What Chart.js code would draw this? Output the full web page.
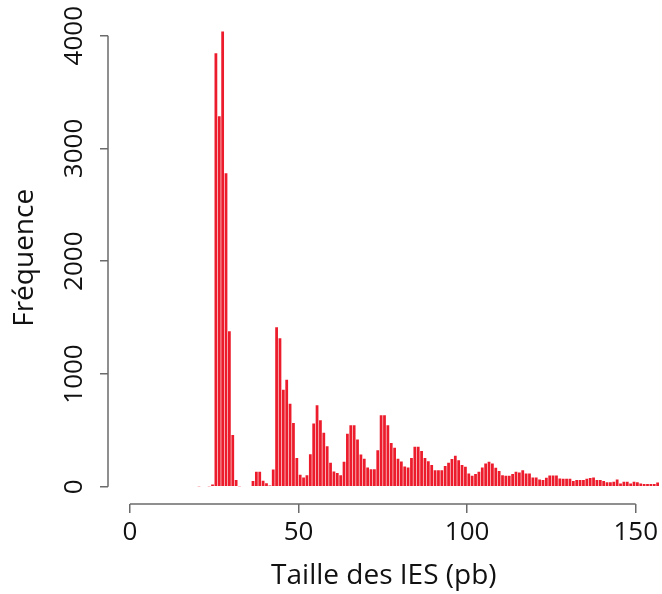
<!DOCTYPE html>
<html>
<head>
<meta charset="utf-8">
<script src="https://cdn.jsdelivr.net/npm/chart.js@4.4.1/dist/chart.umd.min.js"></script>
<style>
  html, body { margin: 0; padding: 0; background: #fff; }
  #wrap { width: 662px; height: 594px; }
</style>
</head>
<body>
<div id="wrap"><canvas id="histo" width="662" height="594"></canvas></div>
<script>
// histogramme des tailles d'IES, classes de 1 pb (bord gauche de la premiere classe)
const premiereClasse = 20;
const frequences = [
  5, 0, 0, 4, 20, 3844, 3286, 4037, 2781, 1380,
  460, 60, 5, 0, 0, 6, 50, 133, 133, 53,
  30, 10, 153, 1414, 1317, 860, 949, 737, 566, 256,
  106, 83, 103, 289, 560, 722, 589, 480, 360, 212,
  136, 121, 103, 221, 471, 545, 545, 418, 286, 248,
  171, 156, 156, 324, 634, 634, 545, 389, 345, 248,
  224, 180, 170, 256, 354, 354, 318, 256, 227, 192,
  147, 147, 147, 183, 212, 245, 274, 236, 192, 177,
  118, 97, 112, 133, 171, 206, 221, 206, 168, 139,
  103, 97, 97, 112, 133, 127, 147, 118, 118, 83,
  83, 65, 59, 80, 100, 100, 100, 74, 71, 71,
  71, 50, 59, 59, 59, 71, 77, 83, 59, 59,
  50, 41, 41, 44, 65, 29, 44, 44, 29, 44,
  41, 29, 24, 24, 24, 24, 38
];
const ticksX = [0, 50, 100, 150];
const ticksY = [0, 1000, 2000, 3000, 4000];

const rouge = "#ec1c2c";
const gris = "#6b6b6b";
const police = "'Open Sans', 'Noto Sans', sans-serif";

const barres = frequences.map((f, i) => ({ x: premiereClasse + i + 0.5, y: f }));

// axes detaches facon R : la ligne ne va que du premier au dernier tick
const axesR = {
  id: "axesR",
  afterDraw(chart) {
    const { ctx, chartArea, scales: { x, y } } = chart;
    ctx.save();
    ctx.strokeStyle = gris;
    ctx.lineWidth = 1.5;
    ctx.beginPath();
    ctx.moveTo(x.getPixelForValue(ticksX[0]), chartArea.bottom);
    ctx.lineTo(x.getPixelForValue(ticksX[ticksX.length - 1]), chartArea.bottom);
    ctx.moveTo(chartArea.left, y.getPixelForValue(ticksY[0]));
    ctx.lineTo(chartArea.left, y.getPixelForValue(ticksY[ticksY.length - 1]));
    ctx.stroke();
    ctx.restore();
  }
};

new Chart(document.getElementById("histo"), {
  type: "bar",
  data: {
    datasets: [{
      data: barres,
      backgroundColor: rouge,
      borderWidth: 0,
      barPercentage: 0.82,
      categoryPercentage: 1
    }]
  },
  options: {
    responsive: false,
    animation: false,
    layout: { padding: { top: 10, right: 0, bottom: 0, left: 0 } },
    plugins: { legend: { display: false }, tooltip: { enabled: false } },
    scales: {
      x: {
        type: "linear",
        min: -6.5,
        max: 157.1,
        offset: false,
        afterBuildTicks: s => { s.ticks = ticksX.map(v => ({ value: v })); },
        afterFit: s => { s.height = 90; },
        border: { display: false },
        grid: { drawOnChartArea: false, tickLength: 9, color: gris, lineWidth: 1.5, offset: false },
        ticks: { autoSkip: false, maxRotation: 0, padding: 4, color: "#111", font: { family: police, size: 26 }, callback: v => String(v) },
        title: { display: true, text: "Taille des IES (pb)", color: "#111", padding: { top: 0, bottom: 1 }, font: { family: police, size: 28 } }
      },
      y: {
        min: -153,
        max: 4214,
        afterBuildTicks: s => { s.ticks = ticksY.map(v => ({ value: v })); },
        afterFit: s => { s.width = 108; },
        border: { display: false },
        grid: { drawOnChartArea: false, tickLength: 8, color: gris, lineWidth: 1.5 },
        ticks: { autoSkip: false, minRotation: 90, maxRotation: 90, crossAlign: "center", padding: -4, color: "#111", font: { family: police, size: 26 }, callback: v => String(v) },
        title: { display: true, text: "Fréquence", color: "#111", padding: { top: 8, bottom: 0 }, font: { family: police, size: 28 } }
      }
    }
  },
  plugins: [axesR]
});
</script>
</body>
</html>
